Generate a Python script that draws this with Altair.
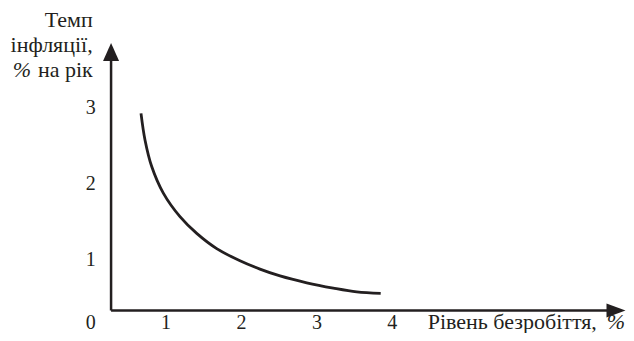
import altair as alt
import pandas as pd

# ---- data ----
unemployment = [0.667, 0.720, 0.809, 0.963, 1.184, 1.406, 1.671, 1.980, 2.245, 2.511, 2.865, 3.217, 3.528, 3.846]
inflation = [2.93, 2.58, 2.23, 1.88, 1.57, 1.35, 1.15, 0.99, 0.88, 0.79, 0.70, 0.63, 0.58, 0.56]
x_ticks = [0, 1, 2, 3, 4]
y_ticks = [1, 2, 3]
y_title_lines = ["Темп", "інфляції,", "на рік"]
x_title_text = "Рівень безробіття,"
pct_sign = "%"

# ---- layout constants ----
X_DOM = [-1.097, 7.0995]
Y_DOM = [0.0395, 4.316]
AX_X = 0.27      # where the vertical axis line sits
AX_Y = 0.336     # where the horizontal axis line sits
INK = "#231f20"
FONT = "Liberation Serif, Times New Roman, serif"
FS = 20          # tick labels
FT = 22          # axis titles

xs = alt.Scale(domain=X_DOM, nice=False, zero=False)
ys = alt.Scale(domain=Y_DOM, nice=False, zero=False)


def X(f):
    return alt.X(f, type="quantitative", scale=xs, axis=None)


def Y(f):
    return alt.Y(f, type="quantitative", scale=ys, axis=None)


# axis lines
axes_df = pd.DataFrame({
    "x": [AX_X, AX_X], "x2": [AX_X, 6.93],
    "y": [AX_Y, AX_Y], "y2": [3.74, AX_Y],
})
axes = alt.Chart(axes_df).mark_rule(color=INK, strokeWidth=2.5).encode(
    x=X("x"), x2=alt.X2("x2"), y=Y("y"), y2=alt.Y2("y2")
)

arrow_up = alt.Chart(pd.DataFrame({"x": [AX_X], "y": [3.737]})).mark_point(
    shape="M0,-1L0.89,1L-0.89,1Z", size=324, filled=True, color=INK,
    opacity=1, strokeWidth=0
).encode(x=X("x"), y=Y("y"))

arrow_right = alt.Chart(pd.DataFrame({"x": [6.967], "y": [AX_Y]})).mark_point(
    shape="M1,0L-1,-0.74L-1,0.74Z", size=361, filled=True, color=INK,
    opacity=1, strokeWidth=0
).encode(x=X("x"), y=Y("y"))

# curve
curve_df = pd.DataFrame({"u": unemployment, "i": inflation})
curve = alt.Chart(curve_df).mark_line(
    color=INK, strokeWidth=2.8, interpolate="catmull-rom"
).encode(x=X("u"), y=Y("i"), order="u:Q")

# tick labels
xt_df = pd.DataFrame({"v": x_ticks, "y": [0.171] * len(x_ticks), "t": [str(v) for v in x_ticks]})
xt = alt.Chart(xt_df).mark_text(
    font=FONT, fontSize=FS, color=INK, align="center", baseline="middle"
).encode(x=X("v"), y=Y("y"), text="t:N")

yt_df = pd.DataFrame({"x": [0.0] * len(y_ticks), "v": y_ticks, "t": [str(v) for v in y_ticks]})
yt = alt.Chart(yt_df).mark_text(
    font=FONT, fontSize=FS, color=INK, align="center", baseline="middle"
).encode(x=X("x"), y=Y("v"), text="t:N")

# axis titles
ytitle_df = pd.DataFrame({"x": [0.027] * 3, "y": [4.072, 3.743, 3.414], "t": y_title_lines})
ytitle = alt.Chart(ytitle_df).mark_text(
    font=FONT, fontSize=FT, color=INK, align="right", baseline="alphabetic"
).encode(x=X("x"), y=Y("y"), text="t:N")

ypct = alt.Chart(pd.DataFrame({"x": [-0.79], "y": [3.414], "t": [pct_sign]})).mark_text(
    font=FONT, fontSize=FT, fontStyle="italic", color=INK, align="right", baseline="alphabetic"
).encode(x=X("x"), y=Y("y"), text="t:N")

xtitle = alt.Chart(pd.DataFrame({"x": [4.469], "y": [0.092], "t": [x_title_text]})).mark_text(
    font=FONT, fontSize=FT, color=INK, align="left", baseline="alphabetic"
).encode(x=X("x"), y=Y("y"), text="t:N")

xpct = alt.Chart(pd.DataFrame({"x": [7.086], "y": [0.092], "t": [pct_sign]})).mark_text(
    font=FONT, fontSize=FT, fontStyle="italic", color=INK, align="right", baseline="alphabetic"
).encode(x=X("x"), y=Y("y"), text="t:N")

chart = alt.layer(
    axes, arrow_up, arrow_right, curve, xt, yt, ytitle, ypct, xtitle, xpct
).properties(
    width=618, height=325, padding=0,
    autosize=alt.AutoSizeParams(type="none"),
).configure_view(stroke=None)

chart.save("out.html", embed_options={"renderer": "svg", "actions": False})
